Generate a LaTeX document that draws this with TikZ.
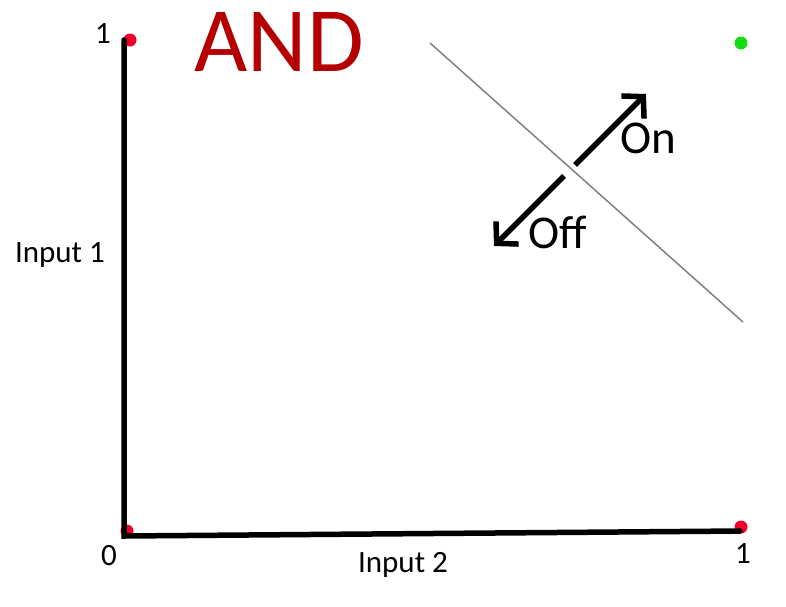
\documentclass[tikz,border=0pt]{standalone}
\usepackage{fontspec}
\setmainfont{Carlito}
\usetikzlibrary{arrows.meta,positioning}
\definecolor{andred}{RGB}{180,0,0}
\definecolor{dotred}{RGB}{240,0,40}
\definecolor{dotgreen}{RGB}{20,220,20}

\begin{document}
\begin{tikzpicture}[x=1pt,y=-1pt,>={Straight Barb[length=15pt,width=32pt]}]
            \useasboundingbox (0,0) rectangle (786,606);
            \tikzset{dot/.style={circle,fill=#1,inner sep=0pt,minimum size=13pt},
                     lbl/.style={anchor=base,inner sep=0pt,font=\fontsize{31}{31}\selectfont}}
            % Corner points
            \node[dot=dotred] (P00) at (127,531) {};
            \node[dot=dotred] (P01) at (130,40) {};
            \node[dot=dotred] (P10) at (741,527) {};
            \node[dot=dotgreen] (P11) at (741,43) {};
            % Axes
            \coordinate (O) at (124,536);
            \coordinate (Y) at (124,40);
            \coordinate (X) at (740,531);
            \draw[line width=5.5pt,line cap=round] (Y) -- (O) -- (X);
            % Dividing line
            \coordinate (L1) at (430,43);
            \coordinate (L2) at (743,322);
            \draw[gray,line width=1.5pt] (L1) -- (L2);
            % Direction arrows
            \coordinate (S1) at (575,165);
            \coordinate (T1) at (646,94);
            \coordinate (S2) at (564,176);
            \coordinate (T2) at (494,246);
            \draw[->,line width=5.5pt] (S1) -- (T1);
            \draw[->,line width=5.5pt] (S2) -- (T2);
            % Labels
            \node[lbl] (one1) at (103,43) {1};
            \node[lbl] (zero) at (109,565) {0};
            \node[lbl] (one2) at (743,563) {1};
            \node[lbl] (in1) at (60,262) {Input 1};
            \node[lbl] (in2) at (403,572) {Input 2};
            \node[lbl,font=\fontsize{47}{47}\selectfont] (on) at (648,153) {On};
            \node[lbl,font=\fontsize{47}{47}\selectfont] (off) at (558,248) {Off};
            \node[lbl,text=andred,font=\fontsize{92}{92}\selectfont] (and) at (279,71) {AND};
        \end{tikzpicture}
\end{document}
